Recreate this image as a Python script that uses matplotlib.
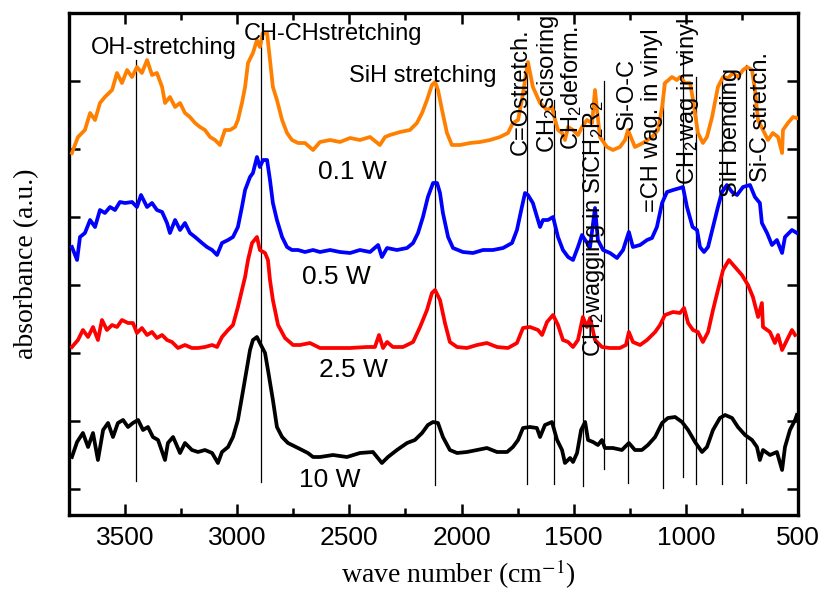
import matplotlib
matplotlib.use("Agg")
import matplotlib.pyplot as plt
from matplotlib.ticker import MultipleLocator, FixedLocator

plt.rcParams['font.family'] = ['Liberation Sans', 'DejaVu Sans']
plt.rcParams['mathtext.fontset'] = 'custom'
plt.rcParams['mathtext.rm'] = 'Liberation Sans'
plt.rcParams['mathtext.it'] = 'Liberation Sans:italic'

# ---------------- data (wavenumber cm^-1, absorbance a.u.) ----------------
wn_01 = [3737, 3710, 3679, 3656, 3634, 3612, 3590, 3558, 3536, 3514, 3491, 3469, 3447, 3425, 3402,
         3380, 3358, 3335, 3322, 3300, 3277, 3255, 3233, 3211, 3188, 3166, 3144, 3121, 3099, 3077,
         3055, 3032, 3010, 2997, 2979, 2965, 2952, 2930, 2912, 2899, 2885, 2867, 2854, 2841, 2823,
         2800, 2778, 2756, 2729, 2698, 2662, 2631, 2586, 2542, 2497, 2453, 2408, 2364, 2341, 2319,
         2274, 2230, 2199, 2176, 2154, 2132, 2118, 2105, 2087, 2065, 2043, 2007, 1962, 1918, 1873,
         1829, 1793, 1771, 1748, 1731, 1717, 1704, 1682, 1650, 1619, 1597, 1583, 1570, 1552, 1539,
         1525, 1503, 1481, 1463, 1441, 1418, 1405, 1396, 1383, 1352, 1325, 1294, 1271, 1258, 1240,
         1227, 1191, 1151, 1124, 1106, 1093, 1062, 1040, 1026, 1004, 981, 968, 946, 924, 906,
         883, 857, 834, 812, 790, 768, 745, 727, 705, 692, 678, 656, 634, 612, 589,
         571, 567, 545, 522, 505]
ab_01 = [3.62, 3.78, 3.85, 4.02, 3.95, 4.12, 4.18, 4.25, 4.42, 4.32, 4.45, 4.38, 4.48, 4.42, 4.55,
         4.40, 4.42, 4.28, 4.12, 4.18, 4.08, 4.12, 4.02, 3.98, 3.92, 3.88, 3.85, 3.78, 3.75, 3.70,
         3.85, 3.85, 3.88, 3.95, 4.12, 4.28, 4.52, 4.62, 4.75, 4.68, 4.82, 4.82, 4.55, 4.28, 4.15,
         3.95, 3.82, 3.75, 3.72, 3.72, 3.65, 3.73, 3.75, 3.73, 3.77, 3.75, 3.78, 3.70, 3.78, 3.80,
         3.83, 3.85, 3.92, 4.02, 4.15, 4.30, 4.33, 4.25, 4.05, 3.82, 3.70, 3.70, 3.72, 3.73, 3.75,
         3.78, 3.82, 3.92, 3.95, 4.15, 4.35, 4.53, 4.28, 4.12, 4.05, 4.08, 3.95, 3.85, 3.82, 3.75,
         3.88, 3.85, 3.80, 3.88, 3.95, 3.92, 4.25, 4.05, 3.78, 3.68, 3.65, 3.68, 3.75, 3.85, 3.75,
         3.68, 3.72, 3.78, 3.85, 4.08, 4.32, 4.38, 4.35, 4.38, 4.32, 4.32, 4.15, 3.82, 3.72, 3.78,
         3.98, 4.28, 4.38, 4.37, 4.42, 4.38, 4.45, 4.48, 4.45, 4.25, 3.95, 3.85, 3.75, 3.82, 3.78,
         3.62, 3.85, 3.92, 3.98, 3.97]

wn_05 = [3737, 3714, 3701, 3679, 3656, 3634, 3612, 3590, 3567, 3545, 3523, 3500, 3469, 3447, 3429,
         3402, 3380, 3358, 3335, 3313, 3300, 3277, 3255, 3233, 3211, 3188, 3157, 3135, 3112, 3090,
         3068, 3041, 3019, 2997, 2979, 2965, 2943, 2930, 2912, 2899, 2885, 2867, 2854, 2841, 2823,
         2800, 2778, 2756, 2729, 2698, 2662, 2631, 2586, 2542, 2497, 2453, 2408, 2372, 2355, 2332,
         2288, 2243, 2216, 2194, 2172, 2150, 2127, 2109, 2096, 2083, 2060, 2038, 1994, 1949, 1904,
         1860, 1815, 1775, 1753, 1731, 1717, 1704, 1682, 1650, 1637, 1615, 1592, 1570, 1548, 1525,
         1503, 1481, 1463, 1449, 1427, 1405, 1392, 1369, 1338, 1307, 1280, 1254, 1236, 1204, 1173,
         1151, 1129, 1106, 1084, 1057, 1026, 1013, 995, 970, 950, 937, 919, 901, 879, 857,
         839, 817, 794, 772, 745, 714, 692, 670, 661, 638, 616, 594, 571, 558, 527, 505]
ab_05 = [2.68, 2.55, 2.78, 2.82, 2.95, 2.88, 3.05, 3.02, 3.08, 3.05, 3.13, 3.12, 3.13, 3.08, 3.20,
         3.08, 3.12, 3.05, 3.03, 2.92, 2.82, 2.95, 2.85, 2.92, 2.82, 2.78, 2.72, 2.68, 2.65, 2.60,
         2.72, 2.75, 2.78, 2.88, 3.08, 3.25, 3.38, 3.42, 3.58, 3.48, 3.55, 3.55, 3.35, 3.12, 2.95,
         2.78, 2.68, 2.65, 2.65, 2.63, 2.65, 2.63, 2.65, 2.63, 2.62, 2.65, 2.63, 2.70, 2.58, 2.67,
         2.65, 2.67, 2.72, 2.82, 2.98, 3.18, 3.32, 3.32, 3.22, 3.02, 2.78, 2.67, 2.63, 2.62, 2.65,
         2.65, 2.67, 2.72, 2.85, 3.08, 3.22, 3.20, 3.12, 2.88, 2.95, 2.95, 2.98, 2.78, 2.65, 2.58,
         2.55, 2.68, 2.80, 2.75, 2.68, 3.07, 2.75, 2.65, 2.62, 2.57, 2.65, 2.83, 2.68, 2.70, 2.75,
         2.77, 2.88, 3.12, 3.23, 3.25, 3.27, 3.28, 3.08, 2.88, 2.85, 2.68, 2.63, 2.68, 2.88, 3.08,
         3.23, 3.30, 3.23, 3.20, 3.28, 3.30, 3.18, 3.12, 2.92, 2.82, 2.70, 2.75, 2.62, 2.78, 2.85, 2.82]

wn_25 = [3737, 3710, 3688, 3665, 3643, 3621, 3603, 3581, 3558, 3536, 3514, 3487, 3465, 3447, 3425,
         3402, 3380, 3358, 3335, 3313, 3291, 3264, 3233, 3202, 3175, 3144, 3112, 3090, 3068, 3041,
         3019, 2997, 2979, 2965, 2952, 2934, 2912, 2899, 2876, 2863, 2854, 2841, 2818, 2787, 2751,
         2720, 2676, 2631, 2573, 2497, 2422, 2386, 2368, 2350, 2332, 2306, 2261, 2216, 2185, 2154,
         2132, 2118, 2096, 2074, 2052, 2020, 1976, 1931, 1887, 1842, 1793, 1753, 1726, 1695, 1659,
         1641, 1619, 1592, 1570, 1548, 1525, 1503, 1481, 1459, 1441, 1427, 1405, 1374, 1338, 1294,
         1267, 1254, 1236, 1204, 1173, 1137, 1115, 1093, 1057, 1026, 1008, 990, 968, 946, 924,
         901, 879, 857, 834, 808, 781, 750, 723, 701, 678, 661, 656, 625, 603, 589,
         571, 549, 527, 513]
ab_25 = [1.68, 1.75, 1.85, 1.78, 1.88, 1.75, 1.95, 1.85, 1.90, 1.88, 1.95, 1.92, 1.92, 1.82, 1.87,
         1.80, 1.83, 1.77, 1.80, 1.75, 1.73, 1.67, 1.70, 1.67, 1.67, 1.68, 1.70, 1.68, 1.78, 1.85,
         1.90, 2.08, 2.25, 2.38, 2.55, 2.72, 2.78, 2.65, 2.62, 2.55, 2.35, 2.15, 1.90, 1.77, 1.70,
         1.70, 1.72, 1.67, 1.67, 1.67, 1.68, 1.68, 1.80, 1.67, 1.73, 1.68, 1.68, 1.73, 1.88, 2.05,
         2.22, 2.25, 2.15, 1.92, 1.73, 1.68, 1.67, 1.70, 1.72, 1.68, 1.67, 1.72, 1.87, 1.88, 1.85,
         1.80, 1.93, 2.00, 1.90, 1.75, 1.73, 1.68, 1.75, 1.98, 1.88, 1.97, 1.75, 1.68, 1.67, 1.67,
         1.70, 1.83, 1.73, 1.70, 1.75, 1.83, 1.90, 2.00, 2.03, 2.02, 2.07, 1.92, 1.85, 1.83, 1.73,
         1.83, 2.05, 2.25, 2.45, 2.55, 2.48, 2.40, 2.30, 2.18, 1.98, 2.12, 1.88, 1.83, 1.72, 1.80,
         1.65, 1.75, 1.85, 1.80]

wn_10 = [3737, 3714, 3688, 3665, 3643, 3621, 3598, 3576, 3554, 3532, 3509, 3487, 3465, 3442, 3420,
         3398, 3376, 3353, 3322, 3309, 3286, 3255, 3233, 3202, 3175, 3144, 3112, 3086, 3068, 3041,
         3019, 2997, 2979, 2956, 2943, 2930, 2912, 2899, 2876, 2863, 2841, 2823, 2800, 2774, 2729,
         2685, 2662, 2631, 2573, 2511, 2453, 2395, 2355, 2328, 2288, 2243, 2208, 2176, 2150, 2127,
         2105, 2083, 2052, 2020, 1976, 1931, 1887, 1842, 1797, 1771, 1748, 1726, 1695, 1664, 1650,
         1628, 1597, 1574, 1552, 1539, 1516, 1503, 1485, 1467, 1449, 1436, 1414, 1392, 1374, 1361,
         1325, 1285, 1254, 1227, 1196, 1169, 1137, 1106, 1080, 1048, 1017, 990, 959, 928, 906,
         879, 848, 825, 794, 768, 736, 705, 683, 670, 656, 625, 594, 571, 558, 536, 513, 505]
ab_10 = [0.58, 0.73, 0.82, 0.68, 0.82, 0.55, 0.85, 0.92, 0.78, 0.92, 0.95, 0.88, 0.92, 0.95, 0.85,
         0.88, 0.78, 0.75, 0.55, 0.72, 0.78, 0.62, 0.72, 0.65, 0.63, 0.65, 0.62, 0.52, 0.63, 0.68,
         0.78, 0.95, 1.18, 1.48, 1.65, 1.75, 1.78, 1.72, 1.62, 1.45, 1.15, 0.88, 0.78, 0.72, 0.67,
         0.62, 0.58, 0.58, 0.60, 0.58, 0.62, 0.63, 0.52, 0.58, 0.65, 0.72, 0.75, 0.82, 0.90, 0.93,
         0.92, 0.78, 0.65, 0.62, 0.63, 0.65, 0.67, 0.63, 0.63, 0.68, 0.75, 0.87, 0.88, 0.87, 0.78,
         0.90, 0.93, 0.75, 0.65, 0.52, 0.57, 0.53, 0.62, 0.85, 0.93, 0.75, 0.73, 0.70, 0.75, 0.67,
         0.67, 0.65, 0.72, 0.65, 0.65, 0.70, 0.78, 0.92, 0.97, 0.98, 0.93, 0.85, 0.73, 0.63, 0.68,
         0.85, 0.97, 1.00, 0.97, 0.88, 0.80, 0.75, 0.68, 0.55, 0.65, 0.60, 0.63, 0.45, 0.68, 0.85, 0.95, 1.00]

series_labels = ["0.1 W", "0.5 W", "2.5 W", "10 W"]
series_colors = ["#FF8000", "#0000FF", "#FF0000", "#000000"]
label_pos = [(2488, 3.43), (2560, 2.38), (2484, 1.45), (2586, 0.35)]

# vertical marker lines: wavenumber, bottom, top
line_wn = [3450, 2895, 2120, 1708, 1590, 1459, 1365, 1258, 1100, 1013, 955, 839, 730]
line_bot = [0.34, 0.33, 0.30, 0.31, 0.31, 0.29, 0.46, 0.32, 0.27, 0.38, 0.31, 0.31, 0.32]
line_top = [4.55, 4.82, 4.35, 4.52, 4.15, 3.92, 4.34, 3.80, 4.32, 4.62, 4.38, 4.38, 4.50]

# horizontal band labels (center positions)
hband_text = ["OH-stretching", "CH-CHstretching", "SiH stretching"]
hband_pos = [(3326, 4.67), (2573, 4.81), (2172, 4.39)]

# rotated band labels (x center, y bottom)
vband_text = ["C=Ostretch.", "CH$_2$scisoring", "CH$_2$deform.",
              "CH$_2$wagging in SiCH$_2$R$_2$", "Si-O-C", "=CH wag. in vinyl",
              "CH$_2$wag in vinyl", "SiH bending", "Si-C stretch."]
vband_pos = [(1735, 3.60), (1615, 3.62), (1508, 3.65), (1410, 1.58), (1262, 3.85),
             (1151, 3.03), (990, 3.30), (799, 3.18), (665, 3.33)]

xticks_major = [3500, 3000, 2500, 2000, 1500, 1000, 500]
yticks = [0.26, 0.94, 1.62, 2.30, 2.98, 3.66, 4.34]

# ---------------- figure ----------------
fig = plt.figure(figsize=(8.27, 5.92), dpi=100)
ax = fig.add_axes([69/827, 77/592, 729/827, 502/592])

for wn, ab, c in zip([wn_01, wn_05, wn_25, wn_10], [ab_01, ab_05, ab_25, ab_10], series_colors):
    ax.plot(wn, ab, color=c, lw=2.7, solid_joinstyle='round', zorder=3)

for x, b, t in zip(line_wn, line_bot, line_top):
    ax.plot([x, x], [b, t], color='black', lw=0.9, zorder=2)

for txt, (x, y) in zip(series_labels, label_pos):
    ax.text(x, y, txt, fontsize=19, ha='center', va='center', zorder=4)

for txt, (x, y) in zip(hband_text, hband_pos):
    ax.text(x, y, txt, fontsize=17, ha='center', va='center', zorder=4)

for txt, (x, y) in zip(vband_text, vband_pos):
    ax.text(x, y, txt, fontsize=17, ha='center', va='bottom', rotation=90,
            rotation_mode='default', zorder=4)

ax.set_xlim(3750, 500)
ax.set_ylim(0, 5.02)
ax.xaxis.set_major_locator(FixedLocator(xticks_major))
ax.xaxis.set_minor_locator(MultipleLocator(250))
ax.yaxis.set_major_locator(FixedLocator(yticks))
ax.set_yticklabels([])
ax.tick_params(which='both', direction='in', top=True, right=True, width=1.8)
ax.tick_params(which='major', length=8)
ax.tick_params(which='minor', length=5)
ax.tick_params(axis='x', labelsize=19, pad=8)
for lab in ax.get_xticklabels():
    lab.set_fontfamily('Liberation Sans')
for sp in ax.spines.values():
    sp.set_linewidth(2.4)

ax.set_xlabel("wave number (cm$^{-1}$)", fontsize=20, fontfamily='Liberation Serif',
              math_fontfamily='stix', labelpad=4)
ax.xaxis.set_label_coords((458 - 69) / 729, -0.085)
ax.set_ylabel("absorbance (a.u.)", fontsize=20, fontfamily='Liberation Serif', labelpad=18)

fig.savefig("out.png", dpi=100)
